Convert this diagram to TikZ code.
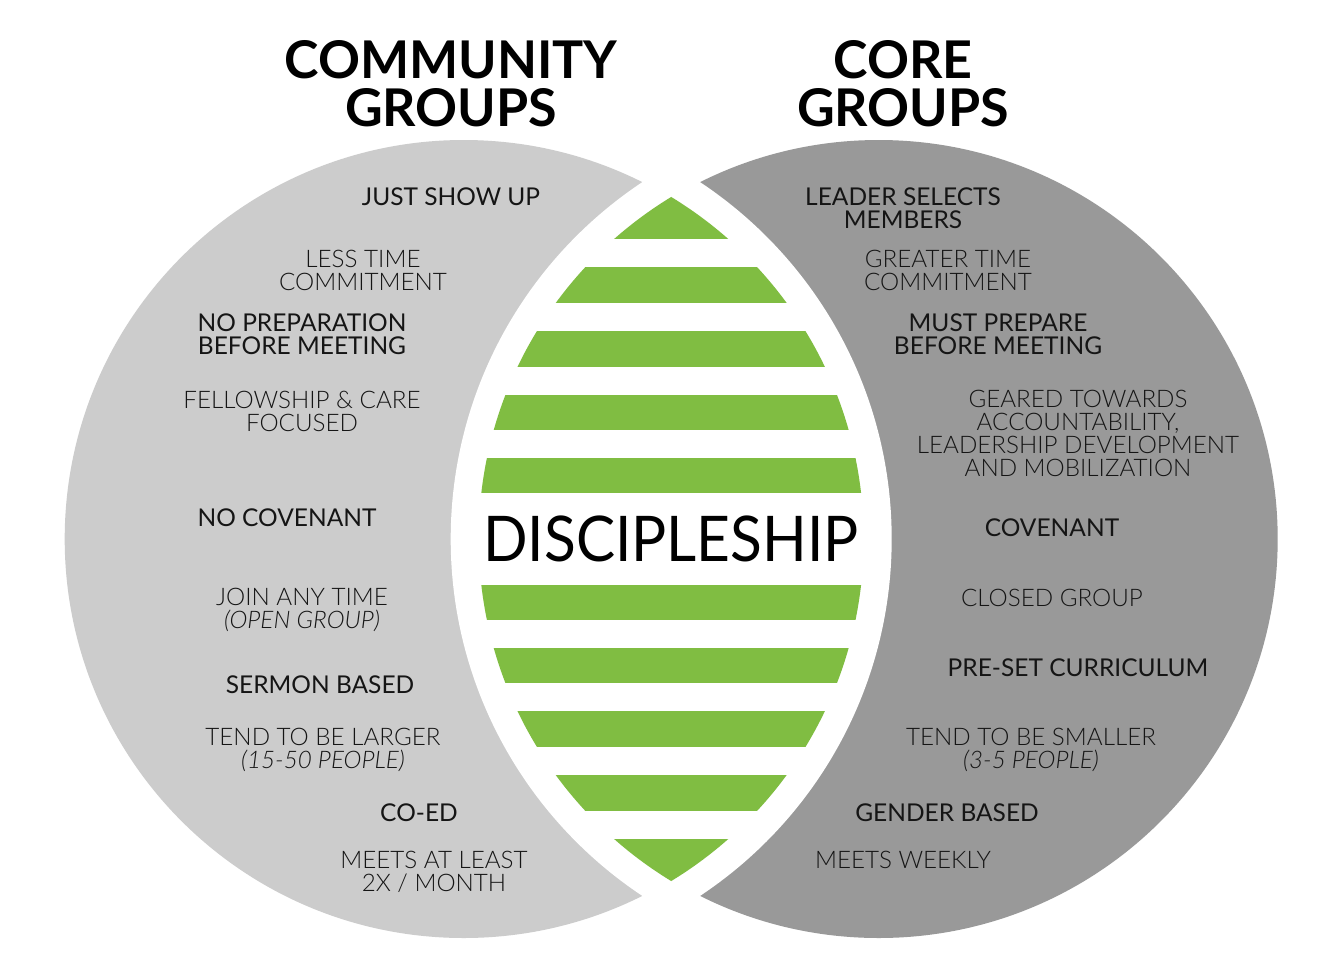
\documentclass[tikz,border=0pt]{standalone}
\usepackage{fontspec}
\setmainfont{Lato}
\newfontfamily\lightfont{Lato Light}
\definecolor{lgray}{HTML}{CCCCCC}
\definecolor{dgray}{HTML}{999999}
\definecolor{leaf}{HTML}{80BD42}
\definecolor{ink}{HTML}{151515}
\begin{document}
\begin{tikzpicture}[x=1pt,y=-1pt,
  reg/.style={font=\fontsize{24.5}{23}\selectfont, align=center, text=ink, inner sep=0pt},
  lite/.style={font=\lightfont\fontsize{24.2}{23}\selectfont, align=center, text=ink, inner sep=0pt},
  ttl/.style={font=\bfseries\fontsize{52}{48}\selectfont, align=center, text=black, inner sep=0pt},
  big/.style={font=\fontsize{63}{63}\selectfont, text=black, inner sep=0pt, xscale=0.93}]
\useasboundingbox (0,0) rectangle (1342,978);
\fill[white] (0,0) rectangle (1342,978);
\coordinate (L) at (463.7,539);
\coordinate (R) at (878.7,539);
% circles
\fill[lgray] (L) circle (399pt);
\fill[dgray] (R) circle (399pt);
% white lens
\begin{scope}
  \clip (L) circle (428pt);
  \fill[white] (R) circle (428pt);
\end{scope}
% green stripes
\begin{scope}
  \clip (L) circle (400pt);
  \clip (R) circle (400pt);
  \foreach \a/\b in {150/239,267/303,331/367,395/430,458/493,585/620,648/683,711/747,775/811,839/930}
    \fill[leaf] (400,\a) rectangle (950,\b);
\end{scope}
% titles
\node[ttl] (t1) at (451,84) {COMMUNITY\\GROUPS};
\node[ttl] (t2) at (903,84) {CORE\\GROUPS};
\node[big] (disc) at (671,539) {DISCIPLESHIP};
% left texts
\node[reg]  (l1)  at (451,197) {JUST SHOW UP};
\node[lite] (l2)  at (363,270) {LESS TIME\\COMMITMENT};
\node[reg]  (l3)  at (302,334) {NO PREPARATION\\BEFORE MEETING};
\node[lite] (l4)  at (302,411) {FELLOWSHIP \& CARE\\FOCUSED};
\node[reg]  (l5)  at (287,518) {NO COVENANT};
\node[lite] (l6)  at (302,610) {JOIN ANY TIME\\\itshape(OPEN GROUP)};
\node[reg]  (l7)  at (320,685) {SERMON BASED};
\node[lite] (l8)  at (323,750) {TEND TO BE LARGER\\\itshape(15-50 PEOPLE)};
\node[reg]  (l9)  at (419,813) {CO-ED};
\node[lite] (l10) at (434,872) {MEETS AT LEAST\\2X / MONTH};
% right texts
\node[reg]  (r1)  at (903,208) {LEADER SELECTS\\MEMBERS};
\node[lite] (r2)  at (948,270) {GREATER TIME\\COMMITMENT};
\node[reg]  (r3)  at (998,334) {MUST PREPARE\\BEFORE MEETING};
\node[lite] (r4)  at (1078,433) {GEARED TOWARDS\\ACCOUNTABILITY,\\LEADERSHIP DEVELOPMENT\\AND MOBILIZATION};
\node[reg]  (r5)  at (1052,528) {COVENANT};
\node[lite] (r6)  at (1052,598) {CLOSED GROUP};
\node[reg]  (r7)  at (1078,668) {PRE-SET CURRICULUM};
\node[lite] (r8)  at (1031,750) {TEND TO BE SMALLER\\\itshape(3-5 PEOPLE)};
\node[reg]  (r9)  at (947,813) {GENDER BASED};
\node[lite] (r10) at (903,860) {MEETS WEEKLY};
\end{tikzpicture}
\end{document}
